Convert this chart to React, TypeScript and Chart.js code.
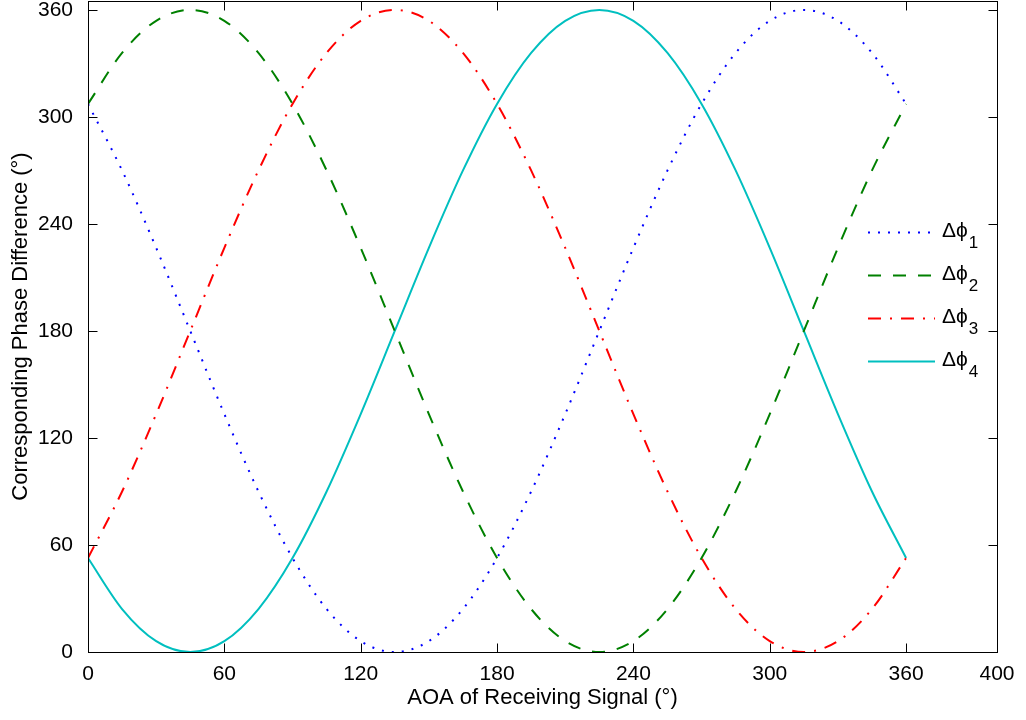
import React, { useEffect, useRef } from "react";
import { Chart, registerables } from "chart.js";

Chart.register(...registerables);

// AOA samples (degrees)
const aoaDeg = [
  0, 15, 30, 45, 60, 75, 90, 105, 120, 135, 150, 165, 180, 195, 210, 225, 240, 255, 270,
  285, 300, 315, 330, 345, 360,
];

// Corresponding phase differences (degrees)
const dphi1 = [
  307.3, 270, 226.6, 180, 133.4, 90, 52.7, 24.1, 6.1, 0, 6.1, 24.1, 52.7, 90, 133.4, 180,
  226.6, 270, 307.3, 335.9, 353.9, 360, 353.9, 335.9, 307.3,
];
const dphi2 = [
  307.3, 335.9, 353.9, 360, 353.9, 335.9, 307.3, 270, 226.6, 180, 133.4, 90, 52.7, 24.1, 6.1,
  0, 6.1, 24.1, 52.7, 90, 133.4, 180, 226.6, 270, 307.3,
];
const dphi3 = [
  52.7, 90, 133.4, 180, 226.6, 270, 307.3, 335.9, 353.9, 360, 353.9, 335.9, 307.3, 270,
  226.6, 180, 133.4, 90, 52.7, 24.1, 6.1, 0, 6.1, 24.1, 52.7,
];
const dphi4 = [
  52.7, 24.1, 6.1, 0, 6.1, 24.1, 52.7, 90, 133.4, 180, 226.6, 270, 307.3, 335.9, 353.9, 360,
  353.9, 335.9, 307.3, 270, 226.6, 180, 133.4, 90, 52.7,
];

const xTicks = [0, 60, 120, 180, 240, 300, 360, 400];
const yTicks = [0, 60, 120, 180, 240, 300, 360];
const legendSubscripts = ["1", "2", "3", "4"];
const legendBase = "Δϕ";
const xTitle = "AOA of Receiving Signal (°)";
const yTitle = "Corresponding Phase Difference (°)";

const FONT = "'Liberation Sans', Arial, Helvetica, 'DejaVu Sans', sans-serif";

const framePlugin = {
  id: "matlabFrame",
  afterDraw(chart: any) {
    const { ctx, chartArea: a, scales } = chart;
    const xs = scales.x;
    const ys = scales.y;
    ctx.save();
    ctx.strokeStyle = "#000";
    ctx.lineWidth = 1;
    ctx.setLineDash([]);
    const L = Math.round(a.left) + 0.5;
    const R = Math.round(a.right) + 0.5;
    const T = Math.round(a.top) + 0.5;
    const B = Math.round(a.bottom) + 0.5;
    ctx.strokeRect(L, T, R - L, B - T);
    const tl = 9;
    ctx.beginPath();
    xTicks.forEach((v) => {
      const px = Math.round(xs.getPixelForValue(v)) + 0.5;
      ctx.moveTo(px, B);
      ctx.lineTo(px, B - tl);
      ctx.moveTo(px, T);
      ctx.lineTo(px, T + tl);
    });
    yTicks.forEach((v) => {
      const py = Math.round(ys.getPixelForValue(v)) + 0.5;
      ctx.moveTo(L, py);
      ctx.lineTo(L + tl, py);
      ctx.moveTo(R, py);
      ctx.lineTo(R - tl, py);
    });
    ctx.stroke();

    // legend (no box), MATLAB style with subscripts
    const lx0 = a.right - 129;
    const lx1 = a.right - 62;
    const tx = a.right - 55;
    const rowY0 = a.top + 231;
    const rowGap = 43;
    chart.data.datasets.forEach((ds: any, i: number) => {
      const y = Math.round(rowY0 + i * rowGap) + 0.5;
      ctx.strokeStyle = ds.borderColor;
      ctx.lineWidth = ds.borderWidth;
      ctx.setLineDash(ds.borderDash || []);
      ctx.lineCap = "butt";
      ctx.beginPath();
      ctx.moveTo(lx0, y);
      ctx.lineTo(lx1, y);
      ctx.stroke();
      ctx.setLineDash([]);
      ctx.fillStyle = "#000";
      ctx.textBaseline = "alphabetic";
      ctx.textAlign = "left";
      ctx.font = `21px ${FONT}`;
      ctx.fillText(legendBase, tx, y + 4.5);
      const w = ctx.measureText(legendBase).width;
      ctx.font = `17px ${FONT}`;
      ctx.fillText(legendSubscripts[i], tx + w + 1, y + 15);
    });
    ctx.restore();
  },
};

export default function App() {
  const canvasRef = useRef<HTMLCanvasElement | null>(null);

  useEffect(() => {
    if (!canvasRef.current) return;
    const mk = (ys: number[]) => aoaDeg.map((x, i) => ({ x, y: ys[i] }));
    const chart = new Chart(canvasRef.current, {
      type: "line",
      data: {
        datasets: [
          {
            label: "Δϕ1",
            data: mk(dphi1),
            borderColor: "#0000ff",
            borderWidth: 2,
            borderDash: [2, 8],
            pointRadius: 0,
            cubicInterpolationMode: "monotone",
          },
          {
            label: "Δϕ2",
            data: mk(dphi2),
            borderColor: "#008000",
            borderWidth: 2,
            borderDash: [13, 12],
            pointRadius: 0,
            cubicInterpolationMode: "monotone",
          },
          {
            label: "Δϕ3",
            data: mk(dphi3),
            borderColor: "#ff0000",
            borderWidth: 2,
            borderDash: [13, 9, 2, 9],
            pointRadius: 0,
            cubicInterpolationMode: "monotone",
          },
          {
            label: "Δϕ4",
            data: mk(dphi4),
            borderColor: "#00bfbf",
            borderWidth: 2,
            pointRadius: 0,
            cubicInterpolationMode: "monotone",
          },
        ],
      },
      options: {
        animation: false,
        responsive: false,
        layout: { padding: { left: 0, top: 1, right: 29, bottom: 0 } },
        plugins: {
          legend: { display: false },
          tooltip: { enabled: false },
        },
        scales: {
          x: {
            type: "linear",
            min: 0,
            max: 400,
            grid: { display: false },
            border: { display: false },
            afterBuildTicks: (s: any) => {
              s.ticks = xTicks.map((v) => ({ value: v }));
            },
            afterFit: (s: any) => {
              s.height = 68;
              s.paddingLeft = 0;
              s.paddingRight = 0;
            },
            ticks: {
              color: "#000",
              padding: 2,
              maxRotation: 0,
              autoSkip: false,
              font: { family: FONT, size: 21 },
            },
            title: {
              display: true,
              text: xTitle,
              color: "#000",
              font: { family: FONT, size: 22 },
              padding: { top: 0, bottom: 9 },
            },
          },
          y: {
            type: "linear",
            min: 0,
            max: 365,
            grid: { display: false },
            border: { display: false },
            afterBuildTicks: (s: any) => {
              s.ticks = yTicks.map((v) => ({ value: v }));
            },
            afterFit: (s: any) => {
              s.width = 88;
              s.paddingTop = 0;
              s.paddingBottom = 0;
            },
            ticks: {
              color: "#000",
              padding: 7,
              autoSkip: false,
              font: { family: FONT, size: 21 },
            },
            title: {
              display: true,
              text: yTitle,
              color: "#000",
              font: { family: FONT, size: 22 },
              padding: { top: 8, bottom: 0 },
            },
          },
        },
      },
      plugins: [framePlugin],
    } as any);
    return () => chart.destroy();
  }, []);

  return (
    <div style={{ position: "fixed", left: 0, top: 0, width: 1026, height: 720, background: "#fff" }}>
      <canvas ref={canvasRef} width={1026} height={720} style={{ display: "block" }} />
    </div>
  );
}
